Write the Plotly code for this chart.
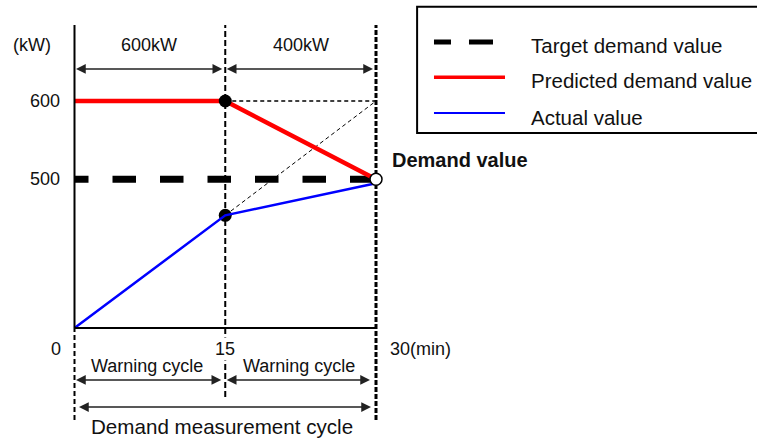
import plotly.graph_objects as go

FONT = "Liberation Sans, Arial, sans-serif"

# demand measurement cycle, minutes vs kW
target_min = [0, 30]
target_kw = [500, 500]
cycle_min = [0, 15, 30]
predicted_kw = [600, 600, 500]
actual_kw = [310, 454, 495]
projection_min = [15, 30]
projection_kw = [454, 600]
check_min = [15, 15]
check_kw = [600, 454]
demand_min = [30]
demand_kw = [500]

y_tick_vals = [600, 500]
x_tick_vals = [0, 15, 30]
x_tick_text = ["0", "15", "30(min)"]
segment_text = ["600kW", "400kW"]
cycle_text = ["Warning cycle", "Warning cycle"]
legend_names = ["Target demand value", "Predicted demand value", "Actual value"]

Y_BASE, Y_TOP = 310, 697

fig = go.Figure()

fig.add_trace(go.Scatter(
    x=target_min, y=target_kw, mode="lines", name=legend_names[0],
    line=dict(color="black", width=7,
              dash="14px,24px,23.5px,24px,23.5px,24px,23.5px,24px,23.5px,24px,23.5px,24px,23.5px,30px"),
))
fig.add_trace(go.Scatter(
    x=projection_min, y=projection_kw, mode="lines",
    line=dict(color="black", width=1, dash="4px,3px"),
))
fig.add_trace(go.Scatter(
    x=cycle_min, y=predicted_kw, mode="lines", name=legend_names[1],
    line=dict(color="#ff0000", width=4.5),
))
fig.add_trace(go.Scatter(
    x=check_min, y=check_kw, mode="markers",
    marker=dict(color="black", size=13),
))
fig.add_trace(go.Scatter(
    x=cycle_min, y=actual_kw, mode="lines", name=legend_names[2],
    line=dict(color="#0000ff", width=2.5),
))
fig.add_trace(go.Scatter(
    x=demand_min, y=demand_kw, mode="markers",
    marker=dict(color="white", size=12, line=dict(color="black", width=1.5)),
))

shapes = [
    # axes
    dict(type="line", x0=0, x1=0, y0=Y_BASE, y1=Y_TOP, line=dict(color="black", width=2)),
    dict(type="line", x0=0, x1=30, y0=Y_BASE, y1=Y_BASE, line=dict(color="black", width=2)),
    # cycle boundaries
    dict(type="line", x0=15, x1=15, y0=222, y1=Y_TOP, layer="below",
         line=dict(color="black", width=2, dash="6px,3px")),
    dict(type="line", x0=30, x1=30, y0=192.6, y1=Y_TOP, layer="below",
         line=dict(color="black", width=3, dash="5px,2px")),
    dict(type="line", x0=0, x1=0, y0=192.6, y1=Y_BASE, layer="below",
         line=dict(color="black", width=2, dash="5px,3px")),
    dict(type="line", x0=15, x1=30, y0=600, y1=600, layer="below",
         line=dict(color="black", width=1.5, dash="4px,3px")),
    # legend box (runs past the right edge)
    dict(type="rect", xref="paper", yref="paper", x0=0.551, x1=1.1, y0=0.699, y1=0.985,
         line=dict(color="black", width=2)),
    dict(type="line", xref="paper", yref="paper", x0=0.5733, x1=0.6513, y0=0.905, y1=0.905,
         line=dict(color="black", width=5, dash="17px,18px,24px")),
    dict(type="line", xref="paper", yref="paper", x0=0.5733, x1=0.6671, y0=0.8251, y1=0.8251,
         line=dict(color="#ff0000", width=3.5)),
    dict(type="line", xref="paper", yref="paper", x0=0.5733, x1=0.6671, y0=0.7443, y1=0.7443,
         line=dict(color="#0000ff", width=2)),
]


def arrow(x0, x1, y, s0, s1):
    return dict(x=x1, y=y, ax=x0, ay=y, xref="x", yref="y", axref="x", ayref="y",
                text="", showarrow=True, arrowside="end+start",
                arrowhead=2, startarrowhead=2, arrowsize=1.3, startarrowsize=1.3,
                arrowwidth=1.5, arrowcolor="#222", standoff=s1, startstandoff=s0)


def label(text, x, y, size=18, anchor="center", **kw):
    return dict(text=text, x=x, y=y, xref="x", yref="y", showarrow=False,
                xanchor=anchor, yanchor="middle",
                font=dict(family=FONT, size=size, color="#111"), **kw)


annotations = [
    arrow(0, 15, 640.9, 0, 3), arrow(15, 30, 640.9, 0, 3),
    arrow(0, 15, 243.7, 0, 4), arrow(15, 30, 243.7, 0, 6),
    arrow(0, 30, 209.2, 3, 5),
    label("(kW)", -4.2, 672),
    label(segment_text[0], 7.4, 672),
    label(segment_text[1], 22.5, 672),
    label(x_tick_text[0], -1.85, 283.3),
    label(x_tick_text[1], x_tick_vals[1], 283.3, bgcolor="white"),
    label(x_tick_text[2], 31.2, 283.3, anchor="left"),
    label(cycle_text[0], 7.2, 261.6),
    label(cycle_text[1], 22.3, 261.6),
    label("Demand measurement cycle", 14.7, 184, size=20.6),
    label("<b>Demand value</b>", 31.4, 524.6, size=20, anchor="left"),
]
for v in y_tick_vals:
    annotations.append(label(str(v), -1.2, v, anchor="right"))
for name, py in zip(legend_names, [0.898, 0.819, 0.735]):
    annotations.append(dict(text=name, x=0.699, y=py, xref="paper", yref="paper",
                            showarrow=False, xanchor="left", yanchor="middle",
                            font=dict(family=FONT, size=20.5, color="#111")))

fig.update_layout(
    width=757, height=442,
    margin=dict(l=0, r=0, t=0, b=0),
    paper_bgcolor="white", plot_bgcolor="rgba(0,0,0,0)",
    showlegend=False,
    xaxis=dict(range=[-7.413, 67.910], visible=False, fixedrange=True),
    yaxis=dict(range=[164.5, 729.0], visible=False, fixedrange=True),
    shapes=shapes, annotations=annotations,
)

# drop the page's default body margin so the figure fills the window
fig.write_html("out.html", config={"displayModeBar": False},
               post_script="document.body.style.margin='0';")
